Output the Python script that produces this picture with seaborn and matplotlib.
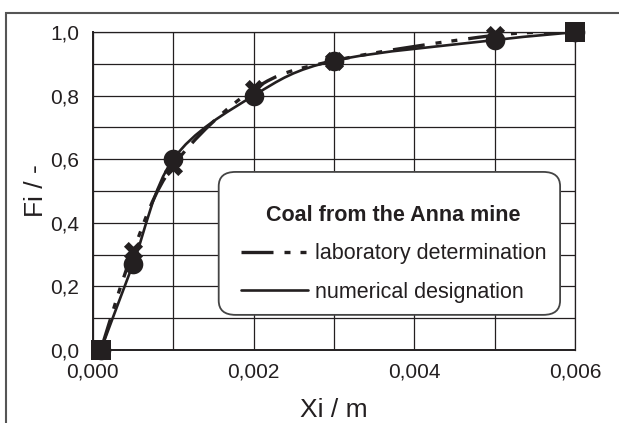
import numpy as np
import pandas as pd
import seaborn as sns
import matplotlib.pyplot as plt
from matplotlib.path import Path
from matplotlib.patches import PathPatch, FancyBboxPatch, Rectangle
from matplotlib.lines import Line2D
from matplotlib.ticker import FuncFormatter

# data
xi = [0.0001, 0.0005, 0.001, 0.002, 0.003, 0.005, 0.006]
fi_lab = [0.0, 0.31, 0.58, 0.82, 0.91, 0.99, 1.0]
fi_num = [0.0, 0.27, 0.60, 0.80, 0.91, 0.975, 1.0]
legend_title = 'Coal from the Anna mine'
label_lab = 'laboratory determination'
label_num = 'numerical designation'

ink = '#231f20'

sns.set_theme(style='white')
plt.rcParams['font.family'] = ['Liberation Sans', 'DejaVu Sans']
plt.rcParams['text.color'] = ink


def smooth_path(x, y):
    # Excel-like smoothed line: cubic Bezier with Catmull-Rom tangents
    p = np.column_stack([x, y])
    ext = np.vstack([p[0], p, p[-1]])
    verts = [p[0]]
    codes = [Path.MOVETO]
    for i in range(len(p) - 1):
        c1 = ext[i + 1] + (ext[i + 2] - ext[i]) / 6
        c2 = ext[i + 2] - (ext[i + 3] - ext[i + 1]) / 6
        verts += [c1, c2, ext[i + 2]]
        codes += [Path.CURVE4] * 3
    return Path(verts, codes)


fig, ax = plt.subplots(figsize=(6.19, 4.23), dpi=100)
fig.subplots_adjust(left=0.150, right=0.929, top=0.924, bottom=0.173)

lab_style = (0, (9.6, 3.3, 1.8, 3.0, 1.8, 3.3))

ax.add_patch(PathPatch(smooth_path(xi, fi_num), fill=False, ec=ink, lw=1.9, zorder=3))
ax.add_patch(PathPatch(smooth_path(xi, fi_lab), fill=False, ec=ink, lw=2.4,
                       ls=lab_style, zorder=3))

df_lab = pd.DataFrame({'x': xi, 'y': fi_lab})
df_num = pd.DataFrame({'x': xi, 'y': fi_num})
sns.scatterplot(data=df_num, x='x', y='y', marker='o', s=200, color=ink,
                edgecolor=ink, linewidth=0, ax=ax, zorder=4, clip_on=False)
sns.scatterplot(data=df_lab, x='x', y='y', marker='X', s=190, color=ink,
                edgecolor=ink, linewidth=0, ax=ax, zorder=4, clip_on=False)
ends = df_num.iloc[[0, -1]]
sns.scatterplot(data=ends, x='x', y='y', marker='s', s=200, color=ink,
                edgecolor=ink, linewidth=0, ax=ax, zorder=5, clip_on=False)

ax.set_xlim(0, 0.006)
ax.set_ylim(0, 1.0)
ax.set_xticks(np.arange(0, 0.00601, 0.001))
ax.set_yticks(np.arange(0, 1.001, 0.1))
ax.xaxis.set_major_formatter(FuncFormatter(
    lambda v, p: f'{v:.3f}'.replace('.', ',') if p % 2 == 0 else ''))
ax.yaxis.set_major_formatter(FuncFormatter(
    lambda v, p: f'{v:.1f}'.replace('.', ',') if p % 2 == 0 else ''))
ax.tick_params(length=0, labelsize=15, colors=ink)
ax.tick_params(axis='x', pad=9)
ax.tick_params(axis='y', pad=10)
ax.grid(True, color=ink, lw=0.9)
for s in ax.spines.values():
    s.set_color(ink)
    s.set_linewidth(0.9)
ax.spines['left'].set_linewidth(1.4)
ax.spines['bottom'].set_linewidth(1.4)

ax.set_xlabel('Xi / m', fontsize=19, color=ink, labelpad=12)
ax.set_ylabel('Fi / -', fontsize=19, color=ink, labelpad=1)

# legend frame
ax.add_patch(FancyBboxPatch((0.261, 0.110), 0.708, 0.450, transform=ax.transAxes,
                            boxstyle='round,pad=0,rounding_size=0.035',
                            mutation_aspect=482 / 318 * 0.85,
                            fc='white', ec='#444444', lw=1.3, zorder=6))
handles = [Line2D([], [], color=ink, lw=2.4, ls=lab_style),
           Line2D([], [], color=ink, lw=1.9)]
leg = ax.legend(handles, [label_lab, label_num], title=legend_title,
                loc='center', bbox_to_anchor=(0.624, 0.302), frameon=False,
                fontsize=15.5, title_fontproperties={'weight': 'bold', 'size': 15.5},
                handlelength=3.1, handletextpad=0.3, labelspacing=0.8,
                borderpad=0)
leg.set_zorder(7)

# outer border of the figure
fig.patches.append(Rectangle((6 / 619, -0.1), 1.2, 1.1 - 13 / 423,
                             transform=fig.transFigure, fill=False,
                             ec='#555555', lw=1.5))

fig.savefig('out.png', dpi=100)
